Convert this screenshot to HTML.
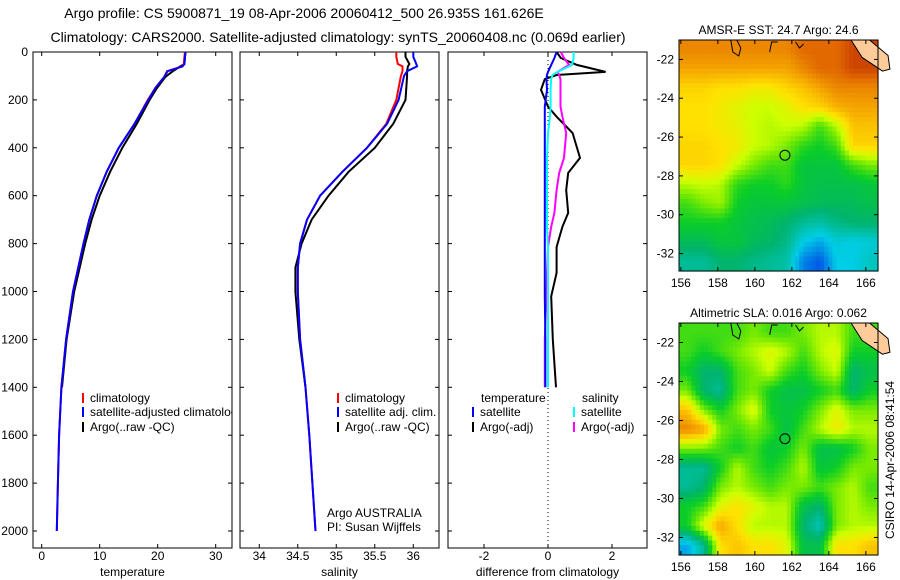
<!DOCTYPE html>
<html><head><meta charset="utf-8"><style>
body{margin:0;background:#fff;}
svg{display:block;font-family:"Liberation Sans",sans-serif;}
</style></head><body>
<svg id="fig" width="900" height="580" viewBox="0 0 900 580" xmlns="http://www.w3.org/2000/svg">
<text x="304" y="18" font-size="14" text-anchor="middle">Argo profile: CS 5900871_19 08-Apr-2006 20060412_500 26.935S 161.626E</text>
<text x="338" y="42" font-size="14" text-anchor="middle">Climatology: CARS2000. Satellite-adjusted climatology: synTS_20060408.nc (0.069d earlier)</text>
<g id="layer"></g>
</svg>
<script>
// ---- data ----
const tDepth=[0,20,50,60,80,105,150,200,300,400,500,600,700,800,1000,1200,1400,1600,1800,2000];
const tClim =[24.7,24.6,24.5,24.2,21.6,21.1,19.6,18.3,16.0,13.3,11.2,9.5,8.2,7.2,5.4,4.2,3.4,3.0,2.8,2.6];
const tSat  =[24.8,24.7,24.6,24.3,21.7,21.1,19.6,18.4,16.0,13.3,11.2,9.5,8.2,7.2,5.4,4.2,3.4,3.0,2.8,2.6];
const tArgo =[24.8,24.7,24.6,23.9,22.6,21.3,19.9,18.6,16.4,13.9,11.8,10.0,8.6,7.5,5.6,4.3,3.5];
const sDepth=[0,20,50,60,80,100,200,300,400,500,600,700,800,900,1000,1200,1400,1600,1800,2000];
const sClim =[35.78,35.78,35.8,35.86,35.86,35.84,35.78,35.65,35.4,35.08,34.79,34.62,34.53,34.5,34.5,34.53,34.6,34.65,34.69,34.73];
const sSat  =[36.0,36.0,36.04,36.05,35.92,35.88,35.81,35.66,35.4,35.08,34.79,34.62,34.53,34.5,34.5,34.53,34.6,34.65,34.69,34.73];
const sArgo =[35.9,35.9,35.95,35.93,35.92,35.92,35.9,35.74,35.5,35.16,34.9,34.68,34.55,34.47,34.47,34.52,34.6];
const dDepth=[0,25,54,83,96,113,158,228,270,338,442,505,576,672,730,814,922,1020,1200,1400];
const dTArgo=[0.27,0.4,0.9,1.8,0.27,-0.1,-0.22,0.0,0.27,0.77,1.0,0.63,0.57,0.63,0.45,0.27,0.27,0.1,0.15,0.25];
const dSArgo=[0.4,0.5,0.66,0.3,0.35,0.39,0.39,0.39,0.45,0.57,0.5,0.35,0.27,0.2,0.1,0.0,-0.03,-0.05,-0.1,-0.1];
const dTSat =[0.27,0.2,0.1,0.0,-0.03,-0.05,-0.03,-0.1,-0.1,-0.1,-0.1,-0.1,-0.1,-0.1,-0.1,-0.1,-0.1,-0.1,-0.08,-0.08];
const dSSat =[0.8,0.8,0.75,0.3,0.14,0.1,0.08,0.08,0.06,0.0,-0.03,-0.03,-0.03,-0.03,-0.03,0.0,0.0,0.0,0.0,0.0];
const yTicks=[0,200,400,600,800,1000,1200,1400,1600,1800,2000];
const tTicks=[0,10,20,30];
const sTicks=[34,34.5,35,35.5,36];
const sTickLabels=["34","34.5","35","35.5","36"];
const dTicks=[-2,0,2];
const lonTicks=[156,158,160,162,164,166];
const latTicks=[-22,-24,-26,-28,-30,-32];
const sstGrid=[
[.85,.85,.85,.85,.85,.85,.85,.9,.9,.9,.95,.95],
[.8,.8,.8,.8,.8,.8,.8,.85,.9,.9,.95,.95],
[.72,.72,.7,.7,.68,.68,.72,.75,.8,.85,.85,.85],
[.7,.7,.68,.65,.62,.62,.65,.7,.72,.78,.8,.8],
[.7,.7,.68,.66,.62,.6,.62,.6,.5,.6,.75,.75],
[.72,.72,.7,.68,.62,.6,.55,.48,.45,.5,.72,.72],
[.72,.72,.7,.62,.55,.5,.5,.42,.42,.42,.5,.55],
[.6,.62,.6,.48,.45,.45,.48,.42,.4,.4,.4,.42],
[.5,.55,.58,.45,.42,.42,.42,.4,.38,.38,.38,.4],
[.45,.45,.45,.42,.4,.38,.35,.3,.28,.32,.35,.35],
[.38,.38,.42,.42,.38,.36,.32,.2,.15,.22,.2,.22],
[.3,.3,.35,.35,.32,.3,.28,.1,.05,.2,.2,.25]];
const slaGrid=[
[.5,.5,.5,.5,.55,.5,.5,.55,.6,.6,.5,.5],
[.5,.45,.5,.55,.6,.65,.6,.5,.6,.65,.45,.45],
[.45,.35,.35,.5,.55,.62,.5,.45,.55,.62,.35,.4],
[.55,.35,.3,.5,.55,.45,.4,.4,.45,.5,.35,.45],
[.75,.55,.45,.55,.65,.45,.42,.45,.55,.65,.55,.55],
[.85,.8,.55,.5,.55,.5,.4,.5,.6,.68,.6,.6],
[.55,.55,.5,.45,.5,.42,.45,.55,.4,.4,.45,.55],
[.3,.3,.45,.6,.5,.45,.5,.6,.42,.45,.55,.55],
[.3,.35,.55,.6,.55,.5,.55,.55,.5,.55,.6,.5],
[.45,.5,.65,.7,.65,.6,.6,.4,.35,.55,.6,.55],
[.45,.65,.8,.7,.6,.6,.6,.35,.25,.55,.6,.6],
[.15,.3,.7,.75,.7,.7,.65,.4,.4,.7,.7,.75]];
const argoLon=161.626, argoLat=-26.935;

// ---- helpers ----
const NS="http://www.w3.org/2000/svg";
const L=document.getElementById('layer');
function mk(tag,attrs,parent){const e=document.createElementNS(NS,tag);for(const k in attrs)e.setAttribute(k,attrs[k]);(parent||L).appendChild(e);return e;}
const Y=d=>52+d*0.2395;
const panels=[
 {x0:33,x1:232,v0:-1.5,pxu:5.8,name:'temperature-panel',title:'temperature',ticks:tTicks,labels:tTicks.map(String)},
 {x0:240,x1:439,v0:33.75,pxu:77,name:'salinity-panel',title:'salinity',ticks:sTicks,labels:sTickLabels},
 {x0:448,x1:647,v0:-3.125,pxu:32,name:'difference-panel',title:'difference from climatology',ticks:dTicks,labels:dTicks.map(String)}];
function X(p,v){return p.x0+(v-p.v0)*p.pxu;}
function line(p,vals,deps,color,name){
  const pts=vals.map((v,i)=>X(p,v).toFixed(1)+','+Y(deps[i]).toFixed(1)).join(' ');
  const e=mk('polyline',{points:pts,fill:'none',stroke:color,'stroke-width':2});
  
  
}
panels.forEach((p,pi)=>{
  const g=mk('g',{});
  
  
  const r=mk('rect',{x:p.x0,y:52,width:p.x1-p.x0,height:496,fill:'none',stroke:'#000','stroke-width':1},g);
  
  
  yTicks.forEach(d=>{
    mk('line',{x1:p.x0,x2:p.x0+4,y1:Y(d),y2:Y(d),stroke:'#000'},g);
    mk('line',{x1:p.x1-4,x2:p.x1,y1:Y(d),y2:Y(d),stroke:'#000'},g);
    if(pi===0){const t=mk('text',{x:28,y:Y(d)+4,'font-size':12,'text-anchor':'end'},g);t.textContent=d;
      
      }
  });
  p.ticks.forEach((v,i)=>{
    const x=X(p,v);
    mk('line',{x1:x,x2:x,y1:548,y2:544,stroke:'#000'},g);
    mk('line',{x1:x,x2:x,y1:52,y2:56,stroke:'#000'},g);
    const t=mk('text',{x:x,y:560,'font-size':12,'text-anchor':'middle'},g);t.textContent=p.labels[i];
    
    
  });
  const tt=mk('text',{x:(p.x0+p.x1)/2,y:576,'font-size':12,'text-anchor':'middle'},g);tt.textContent=p.title;
  
  
});
const P0=panels[0],P1=panels[1],P2=panels[2];
line(P0,tArgo,tDepth,'#000','temp-argo-line');
line(P0,tClim,tDepth,'#f00','temp-climatology-line');
line(P0,tSat,tDepth,'#00f','temp-satellite-line');
line(P1,sArgo,sDepth,'#000','sal-argo-line');
line(P1,sClim,sDepth,'#f00','sal-climatology-line');
line(P1,sSat,sDepth,'#00f','sal-satellite-line');
const zl=mk('line',{x1:X(P2,0),x2:X(P2,0),y1:52,y2:548,stroke:'#000','stroke-dasharray':'1,3'});


line(P2,dTArgo,dDepth,'#000','diff-temp-argo-line');
line(P2,dSArgo,dDepth,'#f0f','diff-sal-argo-line');
line(P2,dSSat,dDepth,'#0ff','diff-sal-satellite-line');
line(P2,dTSat,dDepth,'#00f','diff-temp-satellite-line');

// legends
function leg(x,y,color,label,name){
  const b=mk('line',{x1:x,x2:x,y1:y-9,y2:y+1,stroke:color,'stroke-width':2});
  
  
  const t=mk('text',{x:x+7,y:y,'font-size':12});t.textContent=label;
  
  
}
const cp=mk('clipPath',{id:'c1'});mk('rect',{x:33,y:52,width:199,height:496},cp);
leg(83,402,'#f00','climatology','legend-climatology');
leg(83,416,'#00f','satellite-adjusted climatology','legend-satellite-adjusted');
L.lastChild.setAttribute('clip-path','url(#c1)');
leg(83,431,'#000','Argo(..raw -QC)','legend-argo');
leg(338,402,'#f00','climatology','legend-climatology-2');
leg(338,416,'#00f','satellite adj. clim.','legend-satellite-2');
leg(338,431,'#000','Argo(..raw -QC)','legend-argo-2');
let t=mk('text',{x:481,y:402,'font-size':12});t.textContent='temperature';


t=mk('text',{x:582,y:402,'font-size':12});t.textContent='salinity';


leg(473,416,'#00f','satellite','legend-temp-satellite');
leg(574,416,'#0ff','satellite','legend-sal-satellite');
leg(473,431,'#000','Argo(-adj)','legend-temp-argo');
leg(574,431,'#f0f','Argo(-adj)','legend-sal-argo');
t=mk('text',{x:327,y:517,'font-size':12});t.textContent='Argo AUSTRALIA';


t=mk('text',{x:327,y:531,'font-size':12});t.textContent='PI: Susan Wijffels';



// maps
const stops=[[0,[0,50,230]],[.2,[0,205,230]],[.35,[0,180,110]],[.45,[10,205,40]],[.55,[120,235,0]],[.62,[205,255,0]],[.7,[255,225,0]],[.8,[245,165,0]],[.9,[225,105,0]],[1,[185,35,0]]];
function cmap(v){for(let i=1;i<stops.length;i++){if(v<=stops[i][0]){const a=stops[i-1],b=stops[i],f=(v-a[0])/(b[0]-a[0]);return 'rgb('+a[1].map((c,k)=>Math.round(c+(b[1][k]-c)*f)).join(',')+')';}}return 'rgb(185,35,0)';}
function sample(grid,fy,fx){ // bilinear sample in cell units (for display smoothing)
  const R=grid.length,C=grid[0].length;
  fy=Math.max(0,Math.min(R-1,fy));fx=Math.max(0,Math.min(C-1,fx));
  const r0=Math.floor(fy),c0=Math.floor(fx),r1=Math.min(R-1,r0+1),c1=Math.min(C-1,c0+1),a=fy-r0,b=fx-c0;
  return grid[r0][c0]*(1-a)*(1-b)+grid[r0][c1]*(1-a)*b+grid[r1][c0]*a*(1-b)+grid[r1][c1]*a*b;
}
function drawMap(grid,y0,y1,titleText,name){
  const x0=679,x1=878,lon0=155.9,lonPx=18.5;
  const latPx=(y1-y0)/11.9, lat0=-21;
  const g=mk('g',{});
  
  
  const rows=grid.length,cols=grid[0].length,S=4,cw=(x1-x0)/(cols*S),ch=(y1-y0)/(rows*S);
  for(let r=0;r<rows*S;r++)for(let c=0;c<cols*S;c++){
    const v=sample(grid,(r+0.5)/S-0.5,(c+0.5)/S-0.5);
    const cell=mk('rect',{x:(x0+c*cw).toFixed(1),y:(y0+r*ch).toFixed(1),width:(cw+0.6).toFixed(1),height:(ch+0.6).toFixed(1),fill:cmap(v)},g);
    
    
  }
  const LX=v=>x0+(v-lon0)*lonPx, LY=v=>y0+(lat0-v)*latPx;
  const land=mk('polygon',{points:[[LX(165.2),y0],[LX(166.2),y0],[LX(167.2),LY(-21.8)],[LX(167.3),LY(-22.5)],[LX(166.9),LY(-22.6)],[LX(165.8),LY(-21.9)]].map(p=>p.join(',')).join(' '),fill:'#fc9',stroke:'#000'},g);
  
  
  const reef=mk('path',{d:`M${LX(158.7)},${y0} l2,12 l6,4 l2,-8 l-4,-8 M${LX(160.8)},${y0+12} l2,-10 l6,0 M${LX(162.2)},${y0+2} l4,6 l4,-4`,fill:'none',stroke:'#000'},g);
  
  
  const fr=mk('rect',{x:x0,y:y0,width:x1-x0,height:y1-y0,fill:'none',stroke:'#000'},g);
  
  
  latTicks.forEach(v=>{const y=LY(v);
    mk('line',{x1:x0,x2:x0+4,y1:y,y2:y,stroke:'#000'},g);mk('line',{x1:x1-4,x2:x1,y1:y,y2:y,stroke:'#000'},g);
    const tl=mk('text',{x:x0-5,y:y+4,'font-size':12,'text-anchor':'end'},g);tl.textContent=v;
    
    });
  lonTicks.forEach(v=>{const x=LX(v);
    mk('line',{x1:x,x2:x,y1:y1,y2:y1-4,stroke:'#000'},g);mk('line',{x1:x,x2:x,y1:y0,y2:y0+4,stroke:'#000'},g);
    const tl=mk('text',{x:x,y:y1+16,'font-size':12,'text-anchor':'middle'},g);tl.textContent=v;
    
    });
  const c=mk('circle',{cx:LX(argoLon),cy:LY(argoLat),r:5,fill:'none',stroke:'#000'},g);
  
  
  const tt=mk('text',{x:(x0+x1)/2,y:y0-6,'font-size':12,'text-anchor':'middle'},g);tt.textContent=titleText;
  
  
}
drawMap(sstGrid,40,271,'AMSR-E SST: 24.7 Argo: 24.6','sst-map');
drawMap(slaGrid,323,555,'Altimetric SLA: 0.016 Argo: 0.062','sla-map');
t=mk('text',{x:0,y:0,'font-size':12,'text-anchor':'middle',transform:'translate(894,460) rotate(-90)'});t.textContent='CSIRO 14-Apr-2006 08:41:54';


</script>
</body></html>
